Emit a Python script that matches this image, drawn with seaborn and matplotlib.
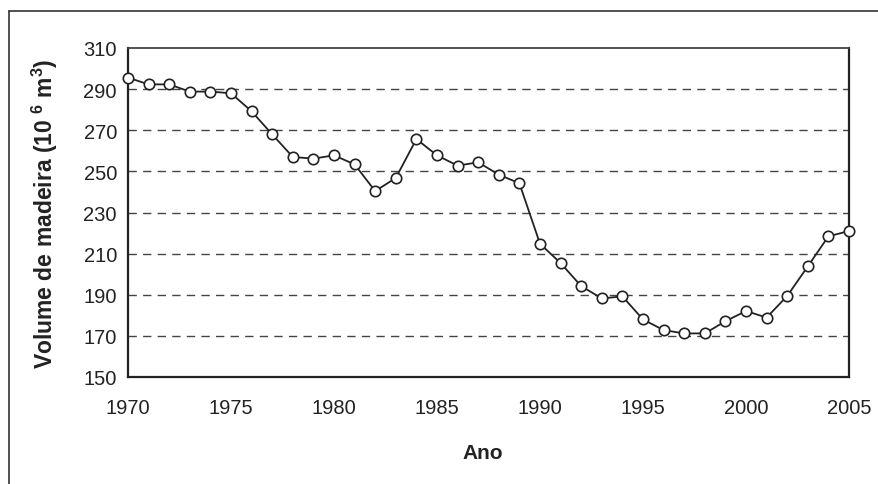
import matplotlib
matplotlib.use("Agg")
import matplotlib.pyplot as plt
import seaborn as sns
import pandas as pd
from matplotlib.lines import Line2D

years = list(range(1970, 2006))
volume = [295.6, 292.3, 292.3, 288.8, 288.8, 288.0, 279.2, 268.0, 257.0, 256.2,
          257.8, 253.4, 240.4, 246.8, 265.7, 257.8, 252.8, 254.4, 248.4, 244.2,
          214.8, 205.4, 194.2, 188.2, 189.2, 178.0, 172.8, 171.2, 171.2, 177.1,
          182.1, 178.9, 189.4, 203.8, 218.4, 221.0]
x_ticks = [1970, 1975, 1980, 1985, 1990, 1995, 2000, 2005]
y_ticks = [150, 170, 190, 210, 230, 250, 270, 290, 310]
grid_vals = [170, 190, 210, 230, 250, 270, 290]

sns.set_style("white")
plt.rcParams['font.family'] = ['Liberation Sans', 'DejaVu Sans']
plt.rcParams['mathtext.fontset'] = 'custom'
plt.rcParams['mathtext.rm'] = 'Liberation Sans'
plt.rcParams['mathtext.bf'] = 'Liberation Sans:bold'

df = pd.DataFrame({"Ano": years, "Volume": volume})

fig = plt.figure(figsize=(8.79, 4.85), dpi=100)
ax = fig.add_axes([128/879, 1 - 378/485, (849 - 128)/879, (378 - 49)/485])

for g in grid_vals:
    ax.axhline(g, color="#444444", lw=1.0, dashes=(6, 4.5), zorder=1)

sns.lineplot(data=df, x="Ano", y="Volume", ax=ax, color="#222222", lw=1.3,
             marker="o", markersize=7.5, markerfacecolor="white",
             markeredgecolor="#222222", markeredgewidth=1.2, clip_on=False, zorder=3)

ax.set_xlim(1970, 2005)
ax.set_ylim(150, 310)
ax.set_xticks(x_ticks)
ax.set_yticks(y_ticks)
ax.tick_params(axis="both", direction="out", length=5, width=1.0, color="#333333",
               labelsize=14.5, labelcolor="#222222")
ax.tick_params(axis="x", pad=10)
ax.tick_params(axis="y", pad=3)
for s in ax.spines.values():
    s.set_visible(True)
    s.set_color("#222222")
    s.set_linewidth(1.6)
ax.spines["top"].set_color("#444444")
ax.spines["top"].set_linewidth(1.3)

ax.set_xlabel("Ano", fontsize=15, fontweight="bold", color="#222222", va="center")
ax.xaxis.set_label_coords(0.492, -(454 - 378) / 329)
ax.set_ylabel(r"Volume de madeira (10 $^{\mathbf{6}}$ m$^{\mathbf{3}}$)", fontsize=16.5,
              fontweight="bold", color="#222222", va="center")
ax.yaxis.set_label_coords(-(128 - 45) / 721, (378 - 214) / 329)
ax.grid(False)

fig.add_artist(Line2D([9/879, 1], [1 - 12/485, 1 - 12/485], transform=fig.transFigure,
                      color="#333333", lw=1.2))
fig.add_artist(Line2D([9/879, 9/879], [0, 1 - 12/485], transform=fig.transFigure,
                      color="#333333", lw=1.2))

fig.savefig("out.png", dpi=100)
